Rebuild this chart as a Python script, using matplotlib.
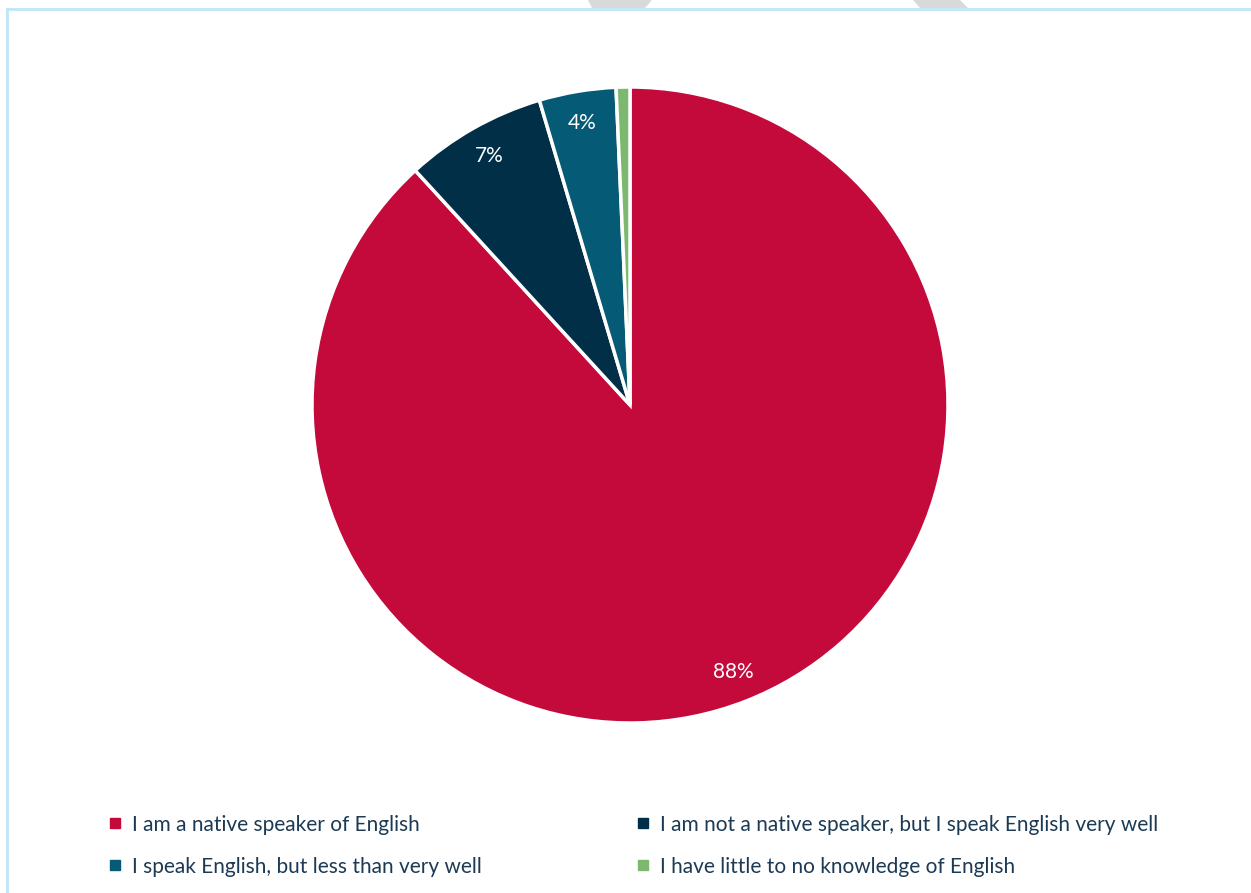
import matplotlib

matplotlib.use('Agg')

import matplotlib.pyplot as plt
from matplotlib.lines import Line2D
from matplotlib.patches import Polygon

# values
categories = [
    'I am a native speaker of English',
    'I am not a native speaker, but I speak English very well',
    'I speak English, but less than very well',
    'I have little to no knowledge of English',
]
shares = [88.2, 7.2, 3.9, 0.7]
colors = ['#C30A3B', '#012F48', '#055A75', '#7CB86E']

TEXT_COLOR = '#1C3A54'
FRAME_COLOR = '#BDE6F9'

plt.rcParams['font.family'] = ['Lato', 'DejaVu Sans']


def fmt_pct(pct: float) -> str:
    return f'{pct:.0f}%' if pct >= 1 else ''


def main() -> None:
    W, H = 1251, 893
    fig = plt.figure(figsize=(W / 100, H / 100), dpi=100)

    # pie placed so its centre sits near (630, 405) px with radius ~318 px
    cx, cy, r = 630, 405, 318
    ax = fig.add_axes([(cx - r) / W, 1 - (cy + r) / H, 2 * r / W, 2 * r / H])
    ax.pie(
        shares,
        colors=colors,
        startangle=90,
        counterclock=False,
        autopct=fmt_pct,
        pctdistance=0.9,
        wedgeprops=dict(edgecolor='white', linewidth=2.5),
        textprops=dict(color='white', fontsize=15),
    )
    ax.set_xlim(-1, 1)
    ax.set_ylim(-1, 1)
    ax.set_aspect('equal')
    ax.axis('off')

    # light blue frame (top and left edges visible)
    fig.add_artist(Line2D([7 / W, 1.0], [1 - 9 / H, 1 - 9 / H], color=FRAME_COLOR,
                          linewidth=2, transform=fig.transFigure))
    fig.add_artist(Line2D([7 / W, 7 / W], [0.0, 1 - 9 / H], color=FRAME_COLOR,
                          linewidth=2, transform=fig.transFigure))

    # grey page decoration peeking in at the top
    for pts in ([(588, 0), (652, 0), (645, 8), (592, 8)],
                [(913, 0), (960, 0), (968, 8), (920, 8)]):
        fig.add_artist(Polygon([(x / W, 1 - y / H) for x, y in pts], closed=True,
                               facecolor='#D9D9D9', edgecolor='none',
                               transform=fig.transFigure))

    handles = [Line2D([], [], marker='s', linestyle='none', markersize=7,
                      markerfacecolor=c, markeredgecolor=c) for c in colors]
    # legend fills column-wise, reorder so the entries read row by row
    order = [0, 2, 1, 3]
    fig.legend([handles[i] for i in order], [categories[i] for i in order],
               ncol=2, frameon=False,
               loc='upper left', bbox_to_anchor=(90 / W, 1 - 796 / H),
               fontsize=15, labelcolor=TEXT_COLOR,
               handlelength=0.6, handletextpad=0.5,
               columnspacing=7.45, labelspacing=1.05)

    fig.savefig('out.png', dpi=100)
    plt.close(fig)


if __name__ == '__main__':
    main()
